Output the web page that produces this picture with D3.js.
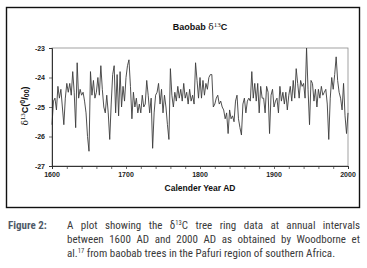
<!DOCTYPE html>
<html>
<head>
<meta charset="utf-8">
<script src="https://cdn.jsdelivr.net/npm/d3@7"></script>
<style>
  body { margin: 0; background: #fff; }
  svg { display: block; }
</style>
</head>
<body>
<svg id="chart"></svg>
<script>
// Baobab d13C, every second year, 1600..2000
const firstYear = 1600, lastYear = 2000, yearStep = 2;
const d13c = [
  -25.6, -24.8, -24.7, -25.1, -24.3, -24.7, -24.4, -25.0, -25.6, -24.7, // 1600
  -24.2, -24.5, -24.2, -24.6, -23.8, -24.5, -25.7, -23.5, -24.7, -24.4, // 1620
  -24.6, -24.5, -24.8, -25.2, -26.0, -26.5, -23.8, -24.6, -24.1, -24.7, // 1640
  -24.5, -24.0, -24.6, -23.6, -24.4, -25.0, -25.2, -24.6, -25.2, -26.1, // 1660
  -24.9, -23.9, -23.6, -25.2, -23.9, -25.3, -23.8, -25.0, -24.3, -24.8, // 1680
  -24.0, -23.6, -23.4, -24.3, -25.4, -24.5, -25.0, -24.7, -25.2, -24.9, // 1700
  -25.2, -24.6, -25.0, -24.9, -24.1, -24.6, -25.2, -24.7, -26.4, -25.2, // 1720
  -24.6, -24.5, -24.2, -24.9, -24.4, -25.2, -24.6, -25.0, -25.6, -26.1, // 1740
  -23.7, -24.6, -25.0, -24.5, -24.8, -24.3, -24.7, -24.4, -24.8, -24.2, // 1760
  -24.7, -24.5, -24.9, -24.4, -24.8, -24.6, -24.9, -23.5, -24.1, -24.7, // 1780
  -24.0, -24.7, -24.1, -24.6, -24.2, -24.4, -24.0, -23.9, -23.9, -25.0, // 1800
  -24.9, -24.7, -24.6, -24.9, -24.8, -25.0, -25.1, -25.4, -25.2, -25.9, // 1820
  -25.1, -25.4, -25.3, -25.5, -24.8, -24.6, -25.4, -25.7, -25.95, -24.9, // 1840
  -24.7, -25.2, -24.8, -24.7, -24.8, -23.8, -24.7, -24.2, -24.8, -24.2, // 1860
  -25.2, -24.3, -24.7, -24.7, -25.2, -24.3, -24.5, -25.9, -24.6, -24.4, // 1880
  -25.0, -24.8, -24.7, -25.2, -24.3, -24.8, -24.5, -24.9, -24.5, -25.1, // 1900
  -24.6, -24.3, -24.8, -24.1, -24.7, -23.7, -24.2, -24.7, -24.1, -24.3, // 1920
  -24.2, -24.7, -23.0, -24.4, -25.6, -24.1, -24.2, -24.8, -24.4, -25.0, // 1940
  -24.4, -24.7, -24.3, -24.6, -24.5, -24.4, -24.9, -26.1, -24.7, -24.0, // 1960
  -24.4, -23.9, -23.3, -24.1, -24.5, -24.7, -25.1, -24.2, -25.3, -25.9, // 1980
  -25.2                                                                  // 2000
];
const years = d3.range(firstYear, lastYear + 1, yearStep);

const xMajorTicks = [1600, 1700, 1800, 1900, 2000];
const xMinorTicks = d3.range(1600, 2001, 20);
const yTicks = [-23, -24, -25, -26, -27];

const captionLabel = "Figure 2:";
const captionLines = [
  [{t: "A plot showing the δ"}, {t: "13", sup: true}, {t: "C tree ring data at annual intervals"}],
  [{t: "between 1600 AD and 2000 AD as obtained by Woodborne et"}],
  [{t: "al."}, {t: "17", sup: true}, {t: " from baobab trees in the Pafuri region of southern Africa."}]
];

const W = 367, H = 268;
const plot = { left: 52, right: 348, top: 48, bottom: 166 };
const font = "Liberation Sans, Arial, Helvetica, sans-serif";
const narrow = "'Liberation Sans Narrow', 'Arial Narrow', 'Roboto Condensed', sans-serif";

const svg = d3.select("#chart").attr("width", W).attr("height", H);

// outer frame of the figure
svg.append("rect")
   .attr("x", 6.5).attr("y", 7.5)
   .attr("width", 353).attr("height", 200)
   .attr("fill", "#fff")
   .attr("stroke", "#111")
   .attr("stroke-width", 1.4);

const x = d3.scaleLinear().domain([firstYear, lastYear]).range([plot.left, plot.right]);
const y = d3.scaleLinear().domain([-27, -23]).range([plot.bottom, plot.top]);

// plot area border (gray on top / right)
svg.append("rect")
   .attr("x", plot.left).attr("y", plot.top)
   .attr("width", plot.right - plot.left).attr("height", plot.bottom - plot.top)
   .attr("fill", "none")
   .attr("stroke", "#8a8a8a")
   .attr("stroke-width", 0.8);

// data line
const line = d3.line()
    .x((d, i) => x(years[i]))
    .y(d => y(d));

svg.append("path")
   .datum(d13c)
   .attr("d", line)
   .attr("fill", "none")
   .attr("stroke", "#3c3c3c")
   .attr("stroke-width", 0.9)
   .attr("stroke-linejoin", "round");

// x axis
const xAxis = svg.append("g")
    .attr("transform", `translate(0,${plot.bottom})`)
    .call(d3.axisBottom(x).tickValues(xMinorTicks).tickSize(3).tickFormat(""));
xAxis.select(".domain").attr("stroke", "#222").attr("stroke-width", 0.9);
xAxis.selectAll(".tick line").attr("stroke", "#333").attr("stroke-width", 0.7);

svg.append("g")
   .selectAll("text")
   .data(xMajorTicks)
   .join("text")
   .attr("x", d => x(d))
   .attr("y", plot.bottom + 11)
   .attr("text-anchor", "middle")
   .style("font-family", font)
   .style("font-weight", "bold")
   .style("font-size", "7px")
   .attr("fill", "#222")
   .text(d => d);

// y axis
const yAxis = svg.append("g")
    .attr("transform", `translate(${plot.left},0)`)
    .call(d3.axisLeft(y).tickValues(yTicks).tickSize(3).tickPadding(4).tickFormat(d3.format("d")));
yAxis.select(".domain").attr("stroke", "#222").attr("stroke-width", 0.9);
yAxis.selectAll(".tick line").attr("stroke", "#333").attr("stroke-width", 0.7);
yAxis.selectAll(".tick text")
     .style("font-family", font)
     .style("font-weight", "bold")
     .style("font-size", "7px")
     .attr("fill", "#222")
     .text(d => "-" + Math.abs(d));

// title
const title = svg.append("text")
    .attr("x", 200).attr("y", 30)
    .attr("text-anchor", "middle")
    .style("font-family", font)
    .style("font-size", "9px")
    .attr("fill", "#111");
title.append("tspan").style("font-weight", "bold").text("Baobab ");
title.append("tspan").style("font-family", "'DejaVu Serif', serif").text("δ");
title.append("tspan").attr("dy", -3).style("font-size", "7px").style("font-family", "'Liberation Serif', serif").text("13");
title.append("tspan").attr("dy", 3).style("font-weight", "bold").text("C");

// x axis title
svg.append("text")
   .attr("x", 200).attr("y", 191)
   .attr("text-anchor", "middle")
   .style("font-family", font)
   .style("font-weight", "bold")
   .style("font-size", "8.5px")
   .attr("fill", "#111")
   .text("Calender Year AD");

// y axis title
const yTitle = svg.append("text")
    .attr("transform", "translate(28,106) rotate(-90)")
    .attr("text-anchor", "middle")
    .style("font-family", font)
    .style("font-size", "9px")
    .attr("fill", "#111");
yTitle.append("tspan").style("font-family", "'DejaVu Serif', serif").text("δ");
yTitle.append("tspan").attr("dy", -3).style("font-size", "7px").style("font-family", "'Liberation Serif', serif").text("13");
yTitle.append("tspan").attr("dy", 3).style("font-weight", "bold").text("C(");
yTitle.append("tspan").attr("dy", -3).style("font-weight", "bold").style("font-size", "7px").text("0");
yTitle.append("tspan").attr("dy", 3).style("font-weight", "bold").text("/");
yTitle.append("tspan").attr("dy", 1).style("font-weight", "bold").style("font-size", "7px").text("00");
yTitle.append("tspan").attr("dy", -1).style("font-weight", "bold").text(")");

// caption
svg.append("text")
   .attr("x", 8).attr("y", 229)
   .style("font-family", narrow)
   .style("font-weight", "bold")
   .style("font-size", "11px")
   .attr("fill", "#4f5a68")
   .text(captionLabel);

const capLeft = 67, capRight = 360;
captionLines.forEach((parts, li) => {
  const t = svg.append("text")
      .attr("x", capLeft).attr("y", 229 + li * 14)
      .style("font-family", narrow)
      .style("font-size", "11px")
      .attr("fill", "#3a3a3a");
  parts.forEach(p => {
    const s = t.append("tspan").text(p.t);
    if (p.sup) s.attr("dy", -4).style("font-size", "6.5px");
  });
  // bring baseline back after superscripts
  t.selectAll("tspan").each(function(d, i, nodes) {
    const prev = parts[i - 1];
    if (prev && prev.sup && !parts[i].sup) d3.select(this).attr("dy", 4);
  });
  // justify all lines except the last
  if (li < captionLines.length - 1) {
    const full = parts.map(p => p.t).join("");
    const gaps = (full.match(/ /g) || []).length;
    const natural = t.node().getComputedTextLength();
    if (gaps > 0) t.attr("word-spacing", (capRight - capLeft - natural) / gaps);
  }
});
</script>
</body>
</html>
